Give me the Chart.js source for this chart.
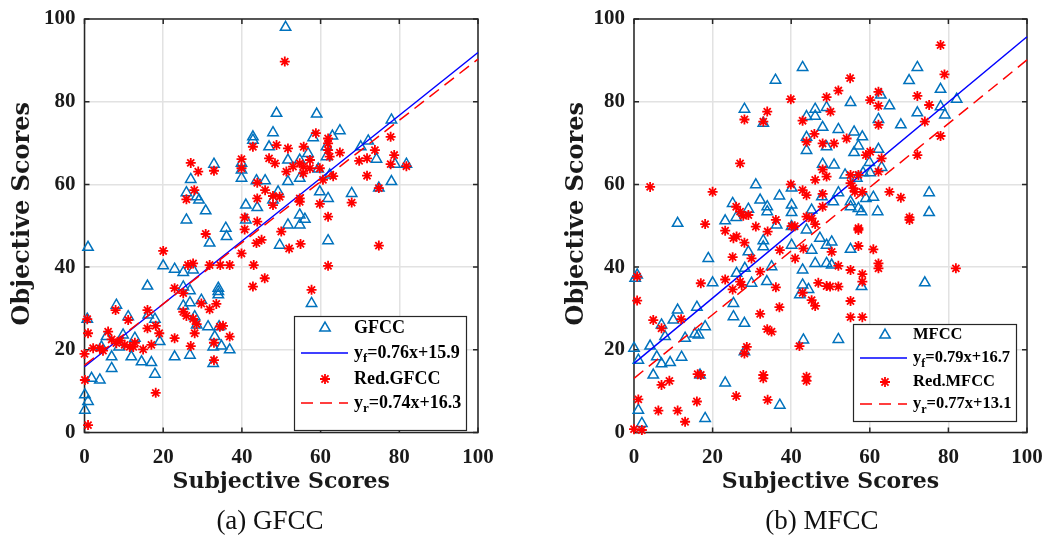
<!DOCTYPE html>
<html>
<head>
<meta charset="utf-8">
<script src="https://cdn.jsdelivr.net/npm/chart.js@4.4.0/dist/chart.umd.min.js"></script>
<style>
body { margin: 0; background: #fff; }
#wrap { position: relative; width: 1044px; height: 535px; overflow: hidden; }
canvas { position: absolute; top: 0; }
.cap { position: absolute; top: 503px; width: 300px; text-align: center; font: 27px "Liberation Serif"; color: #111; line-height: 34px; }
</style>
</head>
<body>
<div id="wrap">
  <canvas id="c1" width="522" height="535" style="left:0"></canvas>
  <canvas id="c2" width="522" height="535" style="left:522px"></canvas>
  <div class="cap" style="left:120px">(a) GFCC</div>
  <div class="cap" style="left:672px">(b) MFCC</div>
</div>
<script>
// axis ticks (both panels)
const axisTicks = [0, 20, 40, 60, 80, 100];

// regression lines [slope, intercept] from the legends
const gfccFit = [0.76, 15.9];
const redGfccFit = [0.74, 16.3];
const mfccFit = [0.79, 16.7];
const redMfccFit = [0.77, 13.1];
const fitRange = [0, 100];

// (a) GFCC  [subjective, objective]
const gfccPts = [
  [51.1,98.0],[48.8,77.2],[47.9,72.5],[42.8,71.5],[42.8,70.7],[46.9,69.1],[32.9,64.9],[27.0,61.2],
  [39.9,65.1],[39.9,63.5],[39.9,61.5],[43.7,60.9],[45.9,60.9],[25.9,58.0],[28.5,57.0],[29.1,56.2],
  [30.8,53.6],[25.9,51.4],[41.0,55.0],[43.9,54.4],[47.9,56.2],[49.2,58.2],[35.9,49.4],[41.0,51.4],
  [59.0,77.0],[78.0,75.6],[64.9,73.0],[63.0,71.7],[58.1,71.3],[72.1,70.5],[70.2,69.1],[74.2,66.1],
  [78.9,64.9],[81.8,64.9],[61.5,69.1],[61.5,66.7],[56.8,67.5],[54.7,65.9],[51.7,65.9],[62.3,62.3],
  [59.4,63.7],[51.7,60.7],[54.7,61.5],[78.0,60.7],[74.8,59.1],[59.8,58.2],[61.9,56.6],[67.9,57.8],
  [54.7,52.6],[56.0,51.6],[54.7,50.2],[51.7,50.2],[0.9,44.8],[20.0,40.3],[22.9,39.5],[25.1,38.7],
  [27.6,39.3],[31.8,45.8],[36.1,47.4],[16.0,35.4],[25.1,35.2],[26.8,34.3],[34.0,34.9],[34.0,34.1],
  [34.0,33.3],[8.1,30.8],[11.1,28.0],[16.2,28.4],[17.9,27.4],[25.1,30.6],[26.8,31.4],[29.7,32.0],
  [28.0,28.0],[28.5,26.0],[31.4,25.6],[34.2,25.6],[33.1,23.2],[34.8,20.9],[36.9,20.0],[32.7,20.7],
  [32.7,16.7],[22.9,18.3],[26.8,18.7],[0.7,27.4],[5.6,23.2],[9.8,23.6],[12.8,22.8],[8.8,20.7],
  [11.9,18.3],[14.5,17.1],[17.0,16.9],[17.9,14.1],[19.1,22.0],[6.9,18.3],[6.9,15.5],[3.9,12.7],
  [1.8,13.1],[0.1,9.1],[0.9,7.5],[0.1,5.4],[4.3,20.7],[49.6,45.3],[61.9,46.4],[57.7,31.2]
];
const redGfccPts = [
  [50.9,89.7],[27.0,65.2],[28.9,63.1],[32.9,63.3],[39.9,66.1],[39.9,63.9],[42.8,69.1],[48.8,69.5],
  [46.9,66.3],[48.4,65.1],[27.9,58.6],[25.9,56.4],[43.9,60.4],[45.9,58.6],[47.9,57.2],[47.9,55.0],
  [43.9,56.6],[40.7,52.0],[43.9,51.0],[58.8,72.4],[61.9,71.1],[61.9,69.9],[61.9,68.3],[51.7,68.7],
  [55.7,69.1],[64.9,67.7],[62.3,66.7],[57.3,65.9],[54.7,65.1],[55.6,64.3],[53.0,64.3],[51.3,63.1],
  [57.3,63.9],[59.8,63.9],[73.8,68.3],[77.8,71.5],[78.7,67.1],[69.8,65.7],[71.8,66.3],[77.8,64.9],
  [81.8,64.4],[71.8,62.1],[63.2,62.0],[60.6,61.1],[55.6,62.7],[49.6,57.0],[54.7,56.6],[54.7,55.8],
  [59.8,55.3],[61.9,52.2],[74.8,59.1],[67.9,55.6],[30.8,48.0],[20.0,43.9],[26.3,40.5],[27.6,40.9],
  [31.8,40.5],[34.5,40.5],[36.9,40.5],[39.9,43.3],[42.8,35.3],[45.8,37.3],[43.7,45.8],[45.0,46.6],
  [40.7,49.1],[43.0,40.5],[22.9,34.9],[25.1,33.7],[29.7,31.2],[31.8,29.8],[33.5,31.1],[25.1,29.2],
  [25.9,28.2],[27.6,27.5],[28.5,26.2],[28.0,24.0],[34.4,25.6],[35.2,25.8],[36.9,23.2],[32.9,21.7],
  [27.0,20.9],[32.9,17.5],[22.9,22.8],[16.0,29.6],[16.0,25.2],[18.1,25.8],[19.0,24.0],[7.9,29.6],
  [11.1,27.2],[0.7,27.4],[0.9,24.0],[6.0,24.4],[6.9,22.5],[8.1,21.6],[9.1,22.2],[10.2,21.2],
  [11.5,20.7],[12.4,20.7],[12.8,21.7],[14.9,20.1],[17.0,21.2],[2.2,20.4],[3.9,20.4],[4.7,19.8],
  [0.0,19.0],[0.1,12.7],[18.1,9.6],[0.9,1.8],[50.0,48.6],[52.0,44.5],[54.9,45.6],[61.9,40.3],
  [74.8,45.2],[57.7,34.5]
];

// (b) MFCC
const mfccPts = [
  [42.9,88.3],[36.0,85.2],[28.1,78.2],[32.9,74.8],[46.1,78.2],[43.9,76.4],[46.1,76.5],[49.0,78.6],
  [48.0,73.8],[43.9,71.4],[43.9,68.2],[49.0,69.1],[48.0,64.9],[31.0,59.9],[37.0,57.2],[40.1,59.1],
  [32.1,56.2],[25.1,55.4],[29.1,54.0],[33.9,54.6],[33.9,53.4],[40.1,55.0],[40.1,53.2],[45.2,53.8],
  [26.0,52.0],[23.2,51.2],[11.1,50.6],[36.3,50.2],[47.8,57.0],[72.1,88.3],[70.0,85.1],[78.0,83.0],
  [82.1,80.6],[78.0,78.8],[79.1,76.8],[72.1,77.3],[67.9,74.4],[65.0,79.0],[62.8,81.6],[62.2,75.7],
  [55.1,79.8],[52.0,73.3],[56.0,72.7],[58.1,71.5],[57.1,69.3],[56.0,67.7],[62.2,68.5],[59.9,65.3],
  [63.0,64.1],[60.1,62.8],[58.3,62.8],[50.9,64.7],[53.7,62.3],[56.7,61.5],[52.0,58.0],[50.7,55.8],
  [55.1,55.8],[55.1,54.6],[57.1,54.2],[57.9,53.4],[59.0,56.6],[60.9,56.9],[62.0,53.4],[75.1,58.0],
  [75.1,53.2],[18.9,42.1],[20.0,36.2],[0.3,37.3],[0.8,38.1],[11.1,29.6],[16.0,30.3],[10.0,27.2],
  [7.0,26.0],[18.1,25.6],[15.5,23.8],[16.4,23.6],[13.0,22.8],[7.9,23.2],[4.1,20.9],[0.0,20.4],
  [1.1,17.5],[5.8,18.3],[7.0,16.6],[9.2,16.9],[12.1,18.2],[4.9,13.9],[16.8,13.9],[23.2,12.0],
  [1.1,5.4],[2.0,2.2],[18.1,3.4],[37.1,6.6],[25.3,31.2],[25.3,28.0],[28.1,26.4],[26.1,38.5],
  [28.2,39.7],[29.9,36.1],[32.9,46.4],[32.9,44.9],[29.1,43.7],[35.0,40.1],[33.8,36.5],[40.1,45.3],
  [40.1,49.8],[42.9,39.3],[42.9,35.7],[42.2,33.3],[44.4,34.6],[45.2,44.1],[46.1,40.9],[49.0,40.9],
  [47.3,47.0],[49.0,45.3],[28.1,19.5],[43.1,22.4],[43.9,49.0],[50.3,46.1],[55.1,44.3],[50.3,40.5],
  [57.9,35.3],[74.0,36.2],[52.0,22.5]
];
const redMfccPts = [
  [39.9,80.6],[49.0,81.1],[33.9,77.6],[28.1,75.7],[32.9,75.2],[42.9,75.4],[45.9,72.2],[43.9,70.3],
  [48.0,69.9],[48.0,63.6],[49.0,61.9],[46.1,61.1],[27.0,65.1],[4.1,59.4],[20.0,58.2],[39.9,60.0],
  [42.9,58.6],[43.9,57.4],[48.0,57.7],[48.0,54.6],[26.0,54.6],[27.0,53.4],[27.8,52.4],[29.1,52.6],
  [18.1,50.4],[31.0,49.8],[36.1,51.4],[43.9,52.2],[45.2,51.8],[46.1,50.4],[40.1,49.9],[40.9,49.9],
  [78.0,93.7],[79.0,86.6],[55.0,85.7],[52.0,82.7],[62.2,82.4],[60.1,80.4],[62.2,79.0],[72.1,81.4],
  [75.1,79.2],[74.0,75.2],[62.2,74.4],[78.0,71.7],[50.0,77.6],[54.1,71.1],[50.9,69.9],[59.0,67.1],
  [60.1,67.9],[63.0,66.3],[72.1,67.1],[62.2,63.1],[55.1,62.3],[57.1,62.3],[55.1,60.3],[55.8,59.1],
  [56.2,58.2],[58.1,58.2],[65.0,58.2],[67.9,56.8],[70.1,52.0],[57.1,49.4],[23.2,48.8],[25.3,47.0],
  [26.1,47.4],[28.1,45.9],[34.0,48.6],[25.1,42.4],[29.9,42.1],[37.1,44.1],[41.0,42.1],[43.1,44.5],
  [32.1,38.9],[23.2,37.0],[17.0,36.1],[27.0,36.5],[27.4,35.7],[25.1,34.6],[36.1,35.1],[42.9,33.8],
  [45.2,32.0],[46.1,30.6],[46.9,36.2],[49.0,35.4],[37.0,30.3],[32.1,28.7],[33.9,25.0],[35.0,24.4],
  [28.7,20.7],[28.1,19.1],[42.1,20.9],[32.9,13.9],[32.9,13.1],[43.9,13.5],[43.9,12.5],[34.0,7.9],
  [26.0,8.8],[16.2,14.1],[17.0,13.9],[16.0,7.5],[13.0,2.6],[11.1,5.3],[6.2,5.3],[9.0,12.5],
  [7.0,11.5],[1.1,8.0],[0.8,31.9],[0.8,37.7],[4.9,27.2],[7.0,25.2],[12.0,27.4],[0.0,0.8],
  [2.0,0.6],[57.1,49.0],[57.1,45.1],[60.9,44.3],[62.2,40.9],[62.2,39.7],[50.3,43.7],[52.0,40.3],
  [55.1,39.3],[58.1,38.3],[58.1,36.5],[49.9,35.3],[52.0,35.3],[55.1,31.8],[55.1,27.9],[58.1,27.9],
  [81.9,39.7],[70.1,51.4]
];

const BLUE = "#0072BD";
const TEXT = "#1a1a1a";
const tickFont = { family: "Liberation Serif", size: 21, weight: "bold" };

const toXY = pts => pts.map(p => ({ x: p[0], y: p[1] }));
const fitLine = f => fitRange.map(x => ({ x: x, y: f[0] * x + f[1] }));
const fitText = f => "=" + f[0].toFixed(2) + "x+" + f[1].toFixed(1);

function drawTri(ctx, x, y, r) {
  ctx.beginPath();
  ctx.moveTo(x, y - r);
  ctx.lineTo(x + r * 0.866, y + r * 0.5);
  ctx.lineTo(x - r * 0.866, y + r * 0.5);
  ctx.closePath();
  ctx.stroke();
}
function drawStar(ctx, x, y, r) {
  ctx.beginPath();
  for (let i = 0; i < 4; i++) {
    const a = i * Math.PI / 4;
    ctx.moveTo(x - Math.cos(a) * r, y - Math.sin(a) * r);
    ctx.lineTo(x + Math.cos(a) * r, y + Math.sin(a) * r);
  }
  ctx.stroke();
}

function drawLegend(ctx, L) {
  ctx.save();
  ctx.fillStyle = "#fff";
  ctx.fillRect(L.x, L.y, L.w, L.h);
  ctx.strokeStyle = "#262626";
  ctx.lineWidth = 1.2;
  ctx.strokeRect(L.x + 0.5, L.y + 0.5, L.w, L.h);

  ctx.lineWidth = 1.5;
  ctx.strokeStyle = BLUE;
  drawTri(ctx, L.mx, L.rows[0], 6);
  ctx.strokeStyle = "#0000ff";
  ctx.beginPath(); ctx.moveTo(L.l0, L.rows[1]); ctx.lineTo(L.l1, L.rows[1]); ctx.stroke();
  ctx.strokeStyle = "#ff0000";
  ctx.lineWidth = 1.8;
  drawStar(ctx, L.mx, L.rows[2], 5);
  ctx.lineWidth = 1.5;
  ctx.setLineDash([12, 7]);
  ctx.beginPath(); ctx.moveTo(L.l0, L.rows[3]); ctx.lineTo(L.l1, L.rows[3]); ctx.stroke();
  ctx.setLineDash([]);

  ctx.fillStyle = "#000";
  ctx.textBaseline = "middle";
  const big = "bold " + L.fs + 'px "Liberation Serif"';
  const small = "bold " + Math.round(L.fs * 0.72) + 'px "Liberation Serif"';
  ctx.font = big;
  ctx.fillText(L.names[0], L.tx, L.rows[0]);
  ctx.fillText(L.names[1], L.tx, L.rows[2]);
  [[1, "f", L.fits[0]], [3, "r", L.fits[1]]].forEach(([row, sub, f]) => {
    let x = L.tx;
    const y = L.rows[row];
    ctx.font = big; ctx.fillText("y", x, y); x += ctx.measureText("y").width;
    ctx.font = small; ctx.fillText(sub, x, y + L.fs * 0.33); x += ctx.measureText(sub).width;
    ctx.font = big; ctx.fillText(fitText(f), x, y);
  });
  ctx.restore();
}

function makeChart(id, o) {
  const frame = {
    id: "frame",
    beforeDatasetsDraw(chart) {
      const { ctx, chartArea: a, scales } = chart;
      ctx.save();
      ctx.strokeStyle = "#262626";
      ctx.lineWidth = 1.5;
      ctx.strokeRect(a.left, a.top, a.right - a.left, a.bottom - a.top);
      ctx.beginPath();
      scales.x.ticks.forEach(t => {
        const px = scales.x.getPixelForValue(t.value);
        ctx.moveTo(px, a.bottom); ctx.lineTo(px, a.bottom - 5);
        ctx.moveTo(px, a.top); ctx.lineTo(px, a.top + 5);
      });
      scales.y.ticks.forEach(t => {
        const py = scales.y.getPixelForValue(t.value);
        ctx.moveTo(a.left, py); ctx.lineTo(a.left + 5, py);
        ctx.moveTo(a.right, py); ctx.lineTo(a.right - 5, py);
      });
      ctx.stroke();
      ctx.restore();
    },
    afterDraw(chart) {
      drawLegend(chart.ctx, o.legend);
    }
  };

  const grid = { color: "#e2e2e2", lineWidth: 1.5, drawTicks: false };

  return new Chart(document.getElementById(id), {
    type: "scatter",
    data: {
      datasets: [
        { data: toXY(o.pts), pointStyle: "triangle", pointRadius: 6, borderColor: BLUE,
          backgroundColor: "rgba(0,0,0,0)", borderWidth: 1.5, order: 4, clip: false },
        { data: fitLine(o.fits[0]), showLine: true, pointRadius: 0, borderColor: "#0000ff",
          borderWidth: 1.5, order: 3, clip: false },
        { data: toXY(o.redPts), pointStyle: "star", pointRadius: 5, borderColor: "#ff0000",
          backgroundColor: "#ff0000", borderWidth: 1.8, order: 2, clip: false },
        { data: fitLine(o.fits[1]), showLine: true, pointRadius: 0, borderColor: "#ff0000",
          borderWidth: 1.5, borderDash: [12, 7], order: 1, clip: false }
      ]
    },
    options: {
      responsive: false,
      animation: false,
      events: [],
      layout: { padding: { left: 0, right: o.padRight, top: 19, bottom: 0 } },
      plugins: { legend: { display: false }, tooltip: { enabled: false } },
      scales: {
        x: {
          type: "linear", min: 0, max: 100,
          afterBuildTicks: s => { s.ticks = axisTicks.map(v => ({ value: v })); },
          afterFit: s => { s.height = 102.5; s.paddingLeft = 0; s.paddingRight = 0; },
          grid: grid,
          border: { display: false },
          ticks: { padding: 12, font: tickFont, color: TEXT, maxRotation: 0, autoSkip: false },
          title: { display: true, text: "Subjective Scores", color: TEXT,
                   font: { family: "DejaVu Serif", size: 22, weight: "bold" },
                   padding: { top: 0, bottom: 40 } }
        },
        y: {
          type: "linear", min: 0, max: 100,
          afterBuildTicks: s => { s.ticks = axisTicks.map(v => ({ value: v })); },
          afterFit: s => { s.width = o.yWidth; s.paddingTop = 0; s.paddingBottom = 0; },
          grid: grid,
          border: { display: false },
          ticks: { padding: 9, font: tickFont, color: TEXT, autoSkip: false },
          title: { display: true, text: "\u2003Objective Scores", color: TEXT,
                   font: { family: "DejaVu Serif", size: 24, weight: "bold" },
                   padding: { top: o.yTitlePad, bottom: 0 } }
        }
      }
    },
    plugins: [frame]
  });
}

makeChart("c1", {
  pts: gfccPts, redPts: redGfccPts, fits: [gfccFit, redGfccFit],
  yWidth: 84.5, padRight: 44, yTitlePad: 8,
  legend: { x: 294, y: 316, w: 172, h: 114, rows: [328, 353, 379, 403], mx: 325, l0: 301, l1: 348, tx: 354,
            fs: 18, names: ["GFCC", "Red.GFCC"], fits: [gfccFit, redGfccFit] }
});
makeChart("c2", {
  pts: mfccPts, redPts: redMfccPts, fits: [mfccFit, redMfccFit],
  yWidth: 112, padRight: 17, yTitlePad: 40,
  legend: { x: 331, y: 324, w: 163, h: 97, rows: [335, 358, 382, 404], mx: 363, l0: 338, l1: 385, tx: 391,
            fs: 16.5, names: ["MFCC", "Red.MFCC"], fits: [mfccFit, redMfccFit] }
});
</script>
</body>
</html>
